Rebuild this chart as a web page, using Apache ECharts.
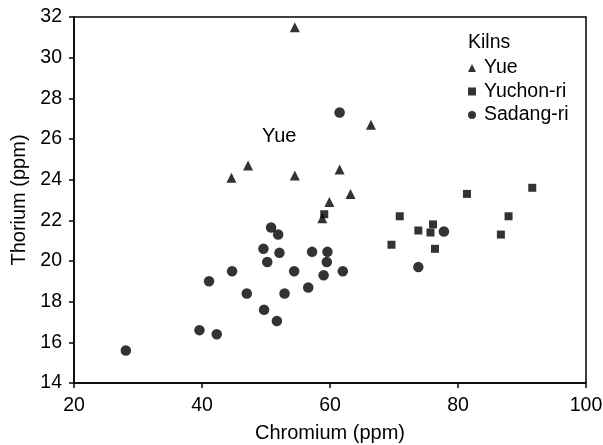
<!DOCTYPE html>
<html>
<head>
<meta charset="utf-8">
<script src="https://cdn.jsdelivr.net/npm/echarts@6/dist/echarts.min.js"></script>
<style>
  html, body { margin: 0; padding: 0; background: #fff; }
  #chart { width: 603px; height: 445px; }
</style>
</head>
<body>
<div id="chart"></div>
<script>
// [chromium, thorium] pairs
const yue = [
  [54.5, 31.5], [44.6, 24.1], [47.2, 24.7], [54.5, 24.2], [61.5, 24.5],
  [66.4, 26.7], [63.2, 23.3], [59.9, 22.9], [58.8, 22.1]
]
const yuchonri = [
  [59.1, 22.3], [70.9, 22.2], [69.6, 20.8], [73.8, 21.5], [75.7, 21.4],
  [76.1, 21.8], [76.4, 20.6], [81.4, 23.3], [86.7, 21.3], [87.9, 22.2],
  [91.6, 23.6]
]
const sadangri = [
  [28.1, 15.6], [39.6, 16.6], [42.3, 16.4], [41.1, 19.0], [44.7, 19.5],
  [47.0, 18.4], [49.7, 17.6], [51.7, 17.05], [49.6, 20.6], [50.2, 19.95],
  [50.8, 21.65], [51.9, 21.3], [52.1, 20.4], [52.9, 18.4], [54.4, 19.5],
  [56.6, 18.7], [57.2, 20.45], [59.0, 19.3], [59.5, 19.95], [59.6, 20.45],
  [62.0, 19.5], [73.8, 19.7], [77.8, 21.45], [61.5, 27.3]
]

const font = 'Liberation Sans, Arial, sans-serif'
const chart = echarts.init(document.getElementById('chart'))

chart.setOption({
  animation: false,
  grid: {
    left: 74, right: 17, top: 17, bottom: 62,
    outerBoundsMode: 'none',
    show: true, borderColor: '#000', borderWidth: 1.5
  },
  xAxis: {
    type: 'value', min: 20, max: 100, interval: 20,
    name: 'Chromium (ppm)', nameLocation: 'middle', nameGap: 40,
    nameTextStyle: { color: '#000', fontSize: 20, fontFamily: font },
    axisLine: { lineStyle: { color: '#000', width: 1.5 } },
    axisTick: { length: 5, lineStyle: { color: '#000', width: 1.5 } },
    axisLabel: { color: '#000', fontSize: 19.5, fontFamily: font, margin: 13 },
    splitLine: { show: false }
  },
  yAxis: {
    type: 'value', min: 14, max: 32, interval: 2,
    name: 'Thorium (ppm)', nameLocation: 'middle', nameGap: 45,
    nameTextStyle: { color: '#000', fontSize: 20, fontFamily: font },
    axisLine: { lineStyle: { color: '#000', width: 1.5 } },
    axisTick: { length: 5, lineStyle: { color: '#000', width: 1.5 } },
    axisLabel: { color: '#000', fontSize: 19.5, fontFamily: font, margin: 12 },
    splitLine: { show: false }
  },
  legend: {
    left: 463, top: 53, orient: 'vertical', itemGap: 3.5,
    itemWidth: 8, itemHeight: 8,
    textStyle: { color: '#000', fontSize: 19.5, fontFamily: font, padding: [0, 0, 0, 3] },
    data: [
      { name: 'Yue', icon: 'triangle' },
      { name: 'Yuchon-ri', icon: 'rect' },
      { name: 'Sadang-ri', icon: 'circle' }
    ]
  },
  graphic: [
    { type: 'text', left: 468, top: 33,
      style: { text: 'Kilns', fill: '#000', fontSize: 19.5, fontFamily: font } },
    { type: 'text', left: 262, top: 126,
      style: { text: 'Yue', fill: '#000', fontSize: 20, fontFamily: font } }
  ],
  series: [
    { name: 'Yue', type: 'scatter', symbol: 'triangle', symbolSize: 10,
      itemStyle: { color: '#000' }, data: yue },
    { name: 'Yuchon-ri', type: 'scatter', symbol: 'rect', symbolSize: 8,
      itemStyle: { color: '#000' }, data: yuchonri },
    { name: 'Sadang-ri', type: 'scatter', symbol: 'circle', symbolSize: 10.5,
      itemStyle: { color: '#000' }, data: sadangri }
  ]
})
</script>
</body>
</html>
